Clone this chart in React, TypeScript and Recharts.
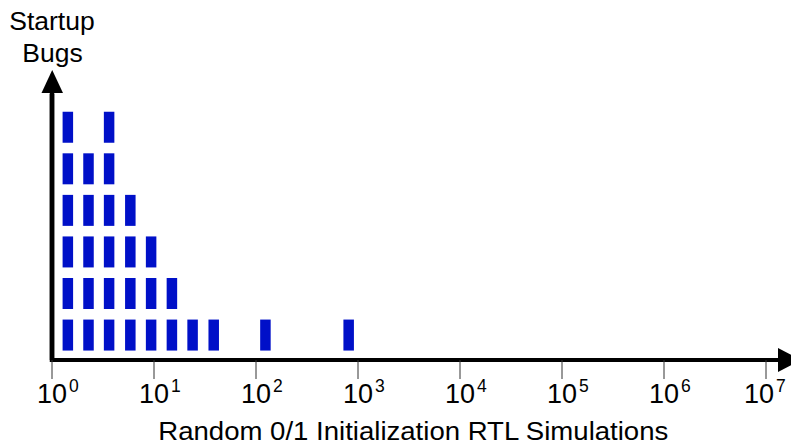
import React from "react";
import { ScatterChart, Scatter, XAxis, YAxis } from "recharts";

// Bin positions (simulation counts, log scale) and number of startup bugs found per bin
const binCenters = [1.43, 2.28, 3.63, 5.86, 9.37, 14.98, 23.9, 38.5, 123.7, 810];
const bugCounts = [6, 5, 6, 4, 3, 2, 1, 1, 1, 1];
const decadeTicks = [1, 10, 100, 1000, 10000, 100000, 1000000, 10000000];

const points: { x: number; y: number }[] = [];
binCenters.forEach((x, i) => {
  for (let k = 1; k <= bugCounts[i]; k++) points.push({ x, y: k });
});

const W = 791;
const H = 445;
const margin = { top: 94, right: 25, bottom: 30, left: 12 };
const PLOT_LEFT = 52;
const PLOT_BOTTOM = 360;
const FONT = "'Liberation Sans', Arial, sans-serif";

const Block = (props: any) => {
  const { cx, cy } = props;
  return <rect x={cx - 5.25} y={cy - 15.5} width={10.5} height={31} fill="#0010C8" />;
};

const DecadeTick = (props: any) => {
  const { x, y, payload } = props;
  const exp = Math.round(Math.log10(payload.value));
  const shift = exp === 7 ? -7 : 0;
  return (
    <text x={x - 15 + shift} y={y + 21.5} fontFamily={FONT} fontSize={27} fill="#000" textAnchor="start">
      10
      <tspan dx={2} dy={-10.5} fontSize={17.5}>
        {exp}
      </tspan>
    </text>
  );
};

export default function App() {
  return (
    <div style={{ position: "absolute", left: 0, top: 0, width: W, height: H, background: "#fff" }}>
      <ScatterChart width={W} height={H} margin={margin}>
        <XAxis
          type="number"
          dataKey="x"
          scale="log"
          domain={[1, 10000000]}
          ticks={decadeTicks}
          interval={0}
          height={55}
          axisLine={{ stroke: "#000", strokeWidth: 4 }}
          tickLine={{ stroke: "#333", strokeWidth: 1 }}
          tickSize={19}
          tick={<DecadeTick />}
          allowDataOverflow
        />
        <YAxis
          type="number"
          dataKey="y"
          domain={[0.4, 6.8]}
          width={40}
          tick={false}
          tickLine={false}
          axisLine={{ stroke: "#000", strokeWidth: 4.5 }}
          allowDataOverflow
        />
        <Scatter data={points} shape={<Block />} isAnimationActive={false} />
        <g>
          <line x1={PLOT_LEFT} y1={PLOT_BOTTOM} x2={780} y2={PLOT_BOTTOM} stroke="#000" strokeWidth={4} />
          <polygon points={`778,348 778,372 801,360`} fill="#000" />
          <line x1={PLOT_LEFT} y1={PLOT_BOTTOM + 2} x2={PLOT_LEFT} y2={91} stroke="#000" strokeWidth={4.5} />
          <polygon points={`41.5,93 63,93 52.2,70`} fill="#000" />
          <text x={52} y={30} textAnchor="middle" fontFamily={FONT} fontSize={26.5} fill="#000">
            Startup
          </text>
          <text x={52.5} y={61.5} textAnchor="middle" fontFamily={FONT} fontSize={26.5} fill="#000">
            Bugs
          </text>
          <text
            x={413.3}
            y={439.5}
            textAnchor="middle"
            fontFamily={FONT}
            fontSize={25}
            textLength={510}
            lengthAdjust="spacingAndGlyphs"
            fill="#000"
          >
            Random 0/1 Initialization RTL Simulations
          </text>
        </g>
      </ScatterChart>
    </div>
  );
}
